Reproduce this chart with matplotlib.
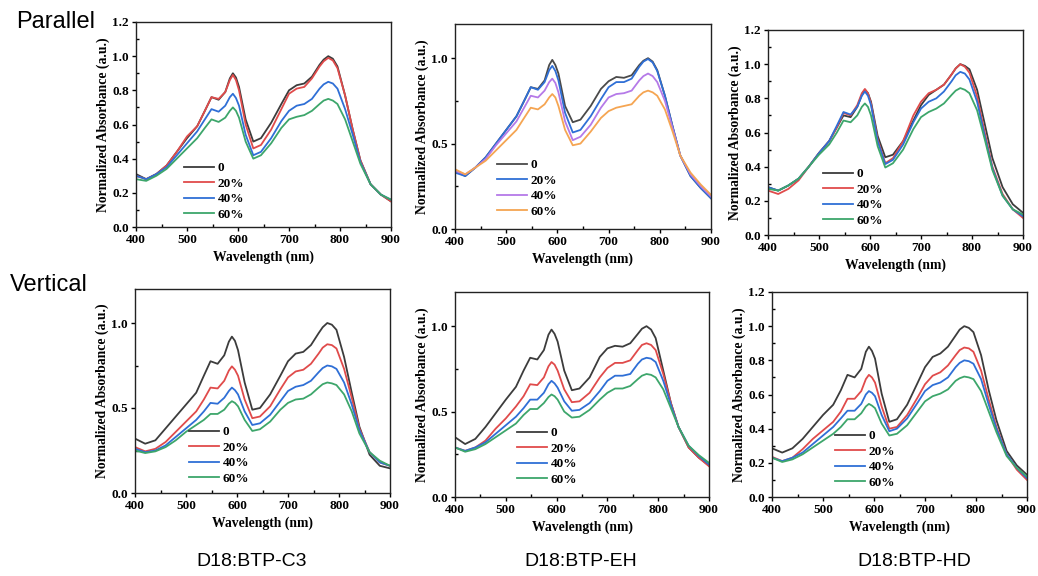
import numpy as np
import matplotlib.pyplot as plt
from matplotlib.ticker import MultipleLocator

# Wavelength grid (nm) shared by all panels
wl = [400, 420, 440, 460, 480, 500, 520, 535, 548, 562, 575, 584, 590, 596, 602, 615, 630,
      645, 665, 685, 700, 715, 730, 745, 760, 768, 777, 786, 795, 810, 825, 840, 860, 880, 900]

labels = ['0', '20%', '40%', '60%']

# Parallel, D18:BTP-C3 (rows: 0, 20%, 40%, 60%)
par_c3 = [
    [0.31, 0.28, 0.31, 0.36, 0.44, 0.52, 0.59, 0.68, 0.76, 0.745, 0.79, 0.87, 0.90, 0.875, 0.82, 0.63, 0.50,
     0.52, 0.61, 0.72, 0.80, 0.83, 0.84, 0.88, 0.95, 0.98, 1.00, 0.985, 0.94, 0.77, 0.57, 0.39, 0.25, 0.19, 0.15],
    [0.30, 0.28, 0.31, 0.36, 0.44, 0.53, 0.59, 0.68, 0.76, 0.75, 0.79, 0.86, 0.89, 0.86, 0.80, 0.60, 0.46,
     0.48, 0.57, 0.69, 0.78, 0.81, 0.82, 0.87, 0.94, 0.97, 0.99, 0.975, 0.93, 0.77, 0.57, 0.39, 0.25, 0.19, 0.15],
    [0.30, 0.28, 0.31, 0.35, 0.42, 0.49, 0.56, 0.63, 0.69, 0.675, 0.71, 0.76, 0.78, 0.755, 0.71, 0.54, 0.42,
     0.44, 0.52, 0.62, 0.68, 0.71, 0.72, 0.75, 0.81, 0.835, 0.85, 0.84, 0.81, 0.69, 0.54, 0.38, 0.25, 0.19, 0.16],
    [0.28, 0.27, 0.30, 0.34, 0.40, 0.46, 0.52, 0.58, 0.63, 0.615, 0.64, 0.68, 0.70, 0.68, 0.64, 0.50, 0.40,
     0.42, 0.49, 0.58, 0.63, 0.645, 0.655, 0.68, 0.72, 0.74, 0.75, 0.74, 0.72, 0.63, 0.50, 0.37, 0.25, 0.19, 0.16],
]

# Parallel, D18:BTP-EH
par_eh = [
    [0.34, 0.31, 0.36, 0.42, 0.50, 0.58, 0.66, 0.75, 0.83, 0.82, 0.87, 0.96, 0.99, 0.96, 0.91, 0.72, 0.625,
     0.64, 0.72, 0.82, 0.865, 0.89, 0.885, 0.90, 0.96, 0.985, 1.00, 0.98, 0.93, 0.78, 0.60, 0.43, 0.31, 0.24, 0.18],
    [0.33, 0.31, 0.36, 0.42, 0.50, 0.58, 0.66, 0.75, 0.83, 0.815, 0.86, 0.93, 0.955, 0.925, 0.87, 0.68, 0.565,
     0.58, 0.66, 0.76, 0.83, 0.86, 0.86, 0.88, 0.95, 0.98, 0.995, 0.975, 0.925, 0.78, 0.60, 0.43, 0.31, 0.24, 0.18],
    [0.34, 0.32, 0.36, 0.41, 0.49, 0.56, 0.63, 0.71, 0.78, 0.77, 0.81, 0.86, 0.88, 0.855, 0.80, 0.63, 0.52,
     0.54, 0.61, 0.71, 0.77, 0.79, 0.795, 0.81, 0.87, 0.895, 0.91, 0.895, 0.86, 0.75, 0.59, 0.43, 0.32, 0.25, 0.19],
    [0.35, 0.32, 0.36, 0.40, 0.46, 0.52, 0.58, 0.65, 0.71, 0.70, 0.73, 0.77, 0.79, 0.77, 0.72, 0.58, 0.49,
     0.50, 0.57, 0.65, 0.69, 0.71, 0.72, 0.73, 0.78, 0.80, 0.81, 0.80, 0.78, 0.70, 0.57, 0.43, 0.33, 0.26, 0.20],
]

# Parallel, D18:BTP-HD
par_hd = [
    [0.28, 0.26, 0.29, 0.33, 0.40, 0.48, 0.55, 0.63, 0.70, 0.69, 0.75, 0.82, 0.85, 0.83, 0.78, 0.58, 0.455,
     0.47, 0.55, 0.67, 0.76, 0.82, 0.85, 0.88, 0.94, 0.975, 1.00, 0.99, 0.97, 0.85, 0.65, 0.45, 0.28, 0.18, 0.13],
    [0.26, 0.24, 0.27, 0.32, 0.40, 0.48, 0.55, 0.63, 0.715, 0.70, 0.76, 0.83, 0.855, 0.83, 0.77, 0.56, 0.42,
     0.45, 0.55, 0.70, 0.78, 0.83, 0.85, 0.88, 0.94, 0.975, 1.00, 0.985, 0.95, 0.81, 0.60, 0.40, 0.24, 0.15, 0.10],
    [0.28, 0.26, 0.29, 0.33, 0.40, 0.48, 0.55, 0.64, 0.72, 0.705, 0.75, 0.815, 0.84, 0.815, 0.76, 0.55, 0.415,
     0.44, 0.53, 0.66, 0.74, 0.78, 0.80, 0.84, 0.90, 0.935, 0.955, 0.945, 0.91, 0.78, 0.58, 0.39, 0.23, 0.15, 0.11],
    [0.27, 0.26, 0.29, 0.33, 0.40, 0.47, 0.53, 0.60, 0.67, 0.66, 0.70, 0.75, 0.77, 0.75, 0.70, 0.52, 0.395,
     0.42, 0.50, 0.62, 0.69, 0.72, 0.74, 0.77, 0.82, 0.845, 0.86, 0.85, 0.83, 0.73, 0.56, 0.38, 0.23, 0.15, 0.12],
]

# Vertical, D18:BTP-C3
ver_c3 = [
    [0.32, 0.29, 0.31, 0.38, 0.45, 0.52, 0.59, 0.69, 0.775, 0.76, 0.81, 0.89, 0.92, 0.895, 0.84, 0.65, 0.49,
     0.50, 0.58, 0.69, 0.775, 0.82, 0.83, 0.87, 0.94, 0.975, 1.00, 0.99, 0.96, 0.80, 0.59, 0.39, 0.225, 0.16, 0.145],
    [0.27, 0.245, 0.26, 0.30, 0.36, 0.42, 0.48, 0.55, 0.62, 0.615, 0.66, 0.72, 0.745, 0.725, 0.69, 0.55, 0.44,
     0.45, 0.51, 0.61, 0.68, 0.715, 0.725, 0.76, 0.82, 0.855, 0.875, 0.87, 0.85, 0.73, 0.56, 0.38, 0.24, 0.18, 0.16],
    [0.26, 0.24, 0.25, 0.28, 0.33, 0.38, 0.43, 0.48, 0.53, 0.525, 0.56, 0.60, 0.62, 0.605, 0.58, 0.48, 0.40,
     0.41, 0.46, 0.54, 0.60, 0.625, 0.635, 0.66, 0.71, 0.735, 0.75, 0.745, 0.73, 0.65, 0.52, 0.37, 0.24, 0.18, 0.16],
    [0.25, 0.235, 0.245, 0.27, 0.31, 0.36, 0.40, 0.43, 0.465, 0.465, 0.49, 0.525, 0.54, 0.53, 0.51, 0.43, 0.365,
     0.375, 0.42, 0.49, 0.53, 0.55, 0.555, 0.58, 0.62, 0.64, 0.65, 0.645, 0.635, 0.58, 0.48, 0.35, 0.24, 0.19, 0.16],
]

# Vertical, D18:BTP-EH
ver_eh = [
    [0.35, 0.31, 0.34, 0.41, 0.49, 0.57, 0.645, 0.74, 0.815, 0.805, 0.86, 0.95, 0.98, 0.955, 0.91, 0.74, 0.625,
     0.635, 0.70, 0.82, 0.87, 0.885, 0.88, 0.90, 0.955, 0.985, 1.00, 0.98, 0.93, 0.74, 0.55, 0.41, 0.29, 0.23, 0.185],
    [0.29, 0.27, 0.29, 0.33, 0.40, 0.46, 0.53, 0.59, 0.66, 0.655, 0.70, 0.765, 0.79, 0.775, 0.74, 0.63, 0.555,
     0.56, 0.61, 0.70, 0.755, 0.785, 0.785, 0.80, 0.86, 0.89, 0.90, 0.89, 0.86, 0.72, 0.55, 0.41, 0.29, 0.23, 0.18],
    [0.29, 0.27, 0.29, 0.32, 0.37, 0.42, 0.47, 0.52, 0.57, 0.57, 0.61, 0.66, 0.68, 0.665, 0.64, 0.56, 0.505,
     0.51, 0.55, 0.62, 0.68, 0.71, 0.71, 0.72, 0.78, 0.805, 0.815, 0.81, 0.79, 0.68, 0.54, 0.41, 0.30, 0.24, 0.19],
    [0.29, 0.265, 0.28, 0.31, 0.35, 0.39, 0.43, 0.48, 0.515, 0.515, 0.55, 0.585, 0.60, 0.59, 0.57, 0.50, 0.465,
     0.47, 0.51, 0.57, 0.61, 0.635, 0.635, 0.65, 0.69, 0.71, 0.72, 0.715, 0.70, 0.63, 0.52, 0.41, 0.30, 0.245, 0.20],
]

# Vertical, D18:BTP-HD
ver_hd = [
    [0.285, 0.26, 0.285, 0.34, 0.41, 0.48, 0.54, 0.625, 0.715, 0.70, 0.75, 0.85, 0.88, 0.855, 0.81, 0.605, 0.44,
     0.455, 0.54, 0.665, 0.76, 0.82, 0.84, 0.88, 0.945, 0.98, 1.00, 0.99, 0.965, 0.83, 0.625, 0.45, 0.27, 0.185, 0.13],
    [0.235, 0.21, 0.23, 0.28, 0.34, 0.39, 0.44, 0.50, 0.575, 0.575, 0.62, 0.69, 0.715, 0.70, 0.67, 0.53, 0.40,
     0.41, 0.48, 0.58, 0.66, 0.71, 0.73, 0.77, 0.83, 0.86, 0.875, 0.87, 0.85, 0.74, 0.57, 0.41, 0.25, 0.16, 0.10],
    [0.23, 0.21, 0.23, 0.26, 0.31, 0.36, 0.41, 0.46, 0.505, 0.505, 0.545, 0.60, 0.62, 0.61, 0.59, 0.48, 0.385,
     0.40, 0.46, 0.55, 0.62, 0.655, 0.67, 0.70, 0.76, 0.785, 0.80, 0.795, 0.78, 0.69, 0.54, 0.40, 0.25, 0.17, 0.11],
    [0.23, 0.205, 0.22, 0.25, 0.29, 0.33, 0.37, 0.41, 0.455, 0.455, 0.49, 0.53, 0.545, 0.535, 0.52, 0.43, 0.36,
     0.37, 0.42, 0.50, 0.56, 0.59, 0.605, 0.63, 0.68, 0.695, 0.705, 0.70, 0.69, 0.62, 0.50, 0.38, 0.24, 0.17, 0.12],
]

colors_std = ['#3c3c3c', '#e04b4b', '#2f6fd6', '#3da66b']
colors_eh = ['#4a4a4a', '#2f6fd6', '#b57ae8', '#f5a552']

W, H = 1038, 576
fig = plt.figure(figsize=(W / 100, H / 100), dpi=100)

serif = ['Liberation Serif', 'DejaVu Serif']
sans = ['Liberation Sans', 'DejaVu Sans']

# (data, colours, box in px: left, right, top, bottom, y step, legend anchor px)
panels = [
    (par_c3, colors_std, (136, 391, 22, 227), 0.2, (184, 162)),
    (par_eh, colors_eh, (455, 711, 24, 229), 0.5, (497, 159)),
    (par_hd, colors_std, (768, 1023, 30, 235), 0.2, (823, 168)),
    (ver_c3, colors_std, (135, 390, 289, 493), 0.5, (189, 426)),
    (ver_eh, colors_std, (455, 709, 292, 497), 0.5, (517, 427)),
    (ver_hd, colors_std, (772, 1027, 292, 497), 0.2, (835, 430)),
]

for data, cols, (l, r, t, b), ystep, (lx, ly) in panels:
    ax = fig.add_axes([l / W, 1 - b / H, (r - l) / W, (b - t) / H])
    for vals, c, lab in zip(data, cols, labels):
        ax.plot(wl, vals, color=c, lw=1.3, label=lab)
    ax.set_xlim(400, 900)
    ax.set_ylim(0, 1.2)
    ax.xaxis.set_major_locator(MultipleLocator(100))
    ax.xaxis.set_minor_locator(MultipleLocator(50))
    if ystep == 0.2:
        ax.set_yticks([0, 0.2, 0.4, 0.6, 0.8, 1.0, 1.2])
        ax.set_yticklabels(['0.0', '0.2', '0.4', '0.6', '0.8', '1.0', '1.2'])
        ax.yaxis.set_minor_locator(MultipleLocator(0.1))
    else:
        ax.set_yticks([0, 0.5, 1.0])
        ax.set_yticklabels(['0.0', '0.5', '1.0'])
        ax.yaxis.set_minor_locator(MultipleLocator(0.25))
    ax.tick_params(which='major', direction='out', length=3, width=1, pad=2)
    ax.tick_params(which='minor', direction='in', length=2, width=1)
    for lbl in ax.get_xticklabels() + ax.get_yticklabels():
        lbl.set_fontfamily(serif)
        lbl.set_fontweight('bold')
        lbl.set_fontsize(9.5)
    for sp in ax.spines.values():
        sp.set_linewidth(1.0)
        sp.set_color('#222222')
    ax.set_xlabel('Wavelength (nm)', family=serif, weight='bold', fontsize=9.8, labelpad=3)
    ax.set_ylabel('Normalized Absorbance (a.u.)', family=serif, weight='bold', fontsize=9.8, labelpad=2)
    ax.legend(loc='upper left', bbox_to_anchor=(lx / W, 1 - ly / H), bbox_transform=fig.transFigure,
              frameon=False, borderpad=0, borderaxespad=0, handlelength=2.3, handletextpad=0.25,
              labelspacing=0.25, prop={'family': serif, 'weight': 'bold', 'size': 9.5})

fig.text(16 / W, 1 - 22 / H, 'Parallel', family=sans, fontsize=17, va='center', ha='left')
fig.text(10 / W, 1 - 285 / H, 'Vertical', family=sans, fontsize=17, va='center', ha='left')
for x, name in [(252, 'D18:BTP-C3'), (581, 'D18:BTP-EH'), (914, 'D18:BTP-HD')]:
    fig.text(x / W, 1 - 561 / H, name, family=sans, fontsize=14, va='center', ha='center')

fig.savefig('out.png', dpi=100)
